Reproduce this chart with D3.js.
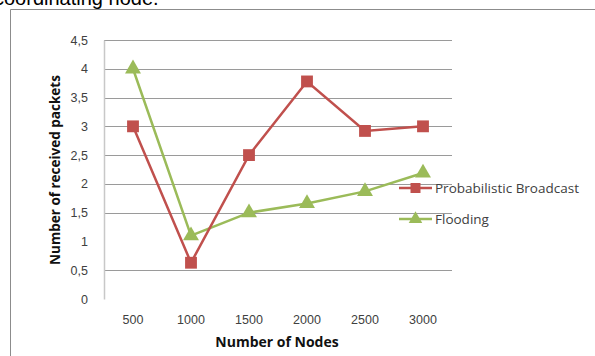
<!DOCTYPE html>
<html>
<head>
<meta charset="utf-8">
<script src="https://cdn.jsdelivr.net/npm/d3@7"></script>
<style>
  body { margin: 0; background: #fff; }
  svg { display: block; }
</style>
</head>
<body>
<script>
// data
const nodes = ["500", "1000", "1500", "2000", "2500", "3000"];
const probabilistic = [3.0, 0.63, 2.5, 3.78, 2.92, 3.0];
const flooding = [4.0, 1.1, 1.5, 1.66, 1.87, 2.19];
const yTicks = [0, 0.5, 1, 1.5, 2, 2.5, 3, 3.5, 4, 4.5];
// the 1 and 0 lines do not show in the scan
const gridLines = [0.5, 1.5, 2, 2.5, 3, 3.5, 4, 4.5];

const width = 595, height = 356;
const plotLeft = 104, plotRight = 452, plotTop = 40, plotBottom = 299;

const svg = d3.select("body").append("svg")
    .attr("width", width)
    .attr("height", height)
    .attr("font-family", "'Open Sans', sans-serif");

// caption text cut at the top of the scan
svg.append("text")
    .attr("x", -6)
    .attr("y", 5)
    .attr("font-family", "'Liberation Sans', Arial, sans-serif")
    .attr("font-size", 20)
    .attr("fill", "#000")
    .text("coordinating node.");

// outer frame (top and left only visible)
svg.append("path")
    .attr("d", "M10.5,356 V9.5 H595")
    .attr("fill", "none")
    .attr("stroke", "#8c8c8c")
    .attr("stroke-width", 1);

const x = d3.scaleBand()
    .domain(nodes)
    .range([plotLeft, plotRight]);

const y = d3.scaleLinear()
    .domain([0, 4.5])
    .range([plotBottom, plotTop]);

// gridlines
svg.append("g")
    .selectAll("line")
    .data(gridLines)
    .join("line")
    .attr("x1", plotLeft)
    .attr("x2", plotRight)
    .attr("y1", d => Math.round(y(d)) + 0.5)
    .attr("y2", d => Math.round(y(d)) + 0.5)
    .attr("stroke", "#9a9a9a")
    .attr("stroke-width", 1.2);

// y axis
const yAxis = svg.append("g")
    .attr("transform", `translate(${plotLeft},0)`)
    .call(d3.axisLeft(y).tickValues(yTicks).tickSize(0).tickPadding(16)
        .tickFormat(d => String(d).replace(".", ",")));
yAxis.select(".domain").attr("stroke", "#c8c8c8").attr("stroke-width", 1.5);
yAxis.selectAll("text")
    .attr("font-size", 12.5)
    .attr("fill", "#404040");

// x axis labels (no axis line)
const xAxis = svg.append("g")
    .attr("transform", `translate(0,${plotBottom})`)
    .call(d3.axisBottom(x).tickSize(0).tickPadding(16));
xAxis.select(".domain").remove();
xAxis.selectAll("text")
    .attr("font-size", 12.5)
    .attr("fill", "#404040");

// axis titles
svg.append("text")
    .attr("transform", "translate(60,170) rotate(-90)")
    .attr("text-anchor", "middle")
    .attr("font-size", 13.5)
    .attr("font-weight", "bold")
    .attr("fill", "#111")
    .text("Number of received packets");

svg.append("text")
    .attr("x", 277)
    .attr("y", 347)
    .attr("text-anchor", "middle")
    .attr("font-size", 14)
    .attr("font-weight", "bold")
    .attr("fill", "#111")
    .text("Number of Nodes");

const line = d3.line()
    .x((d, i) => x(nodes[i]) + x.bandwidth() / 2)
    .y(d => y(d));

const series = [
    { name: "Probabilistic Broadcast", values: probabilistic, color: "#c0504d", shape: d3.symbolSquare },
    { name: "Flooding", values: flooding, color: "#9bbb59", shape: d3.symbolTriangle }
];

series.slice().reverse().forEach(s => {
    svg.append("path")
        .datum(s.values)
        .attr("d", line)
        .attr("fill", "none")
        .attr("stroke", s.color)
        .attr("stroke-width", 2.5);

    svg.append("g")
        .selectAll("path")
        .data(s.values)
        .join("path")
        .attr("transform", (d, i) => `translate(${x(nodes[i]) + x.bandwidth() / 2},${y(d)})`)
        .attr("d", d3.symbol().type(s.shape).size(s.shape === d3.symbolSquare ? 140 : 110))
        .attr("fill", s.color);
});

// legend
const legend = svg.append("g")
    .selectAll("g")
    .data(series)
    .join("g")
    .attr("transform", (d, i) => `translate(399,${188 + i * 31})`);

legend.append("line")
    .attr("x1", 0)
    .attr("x2", 33)
    .attr("stroke", d => d.color)
    .attr("stroke-width", 2.5);

legend.append("path")
    .attr("transform", "translate(16.5,0)")
    .attr("d", d => d3.symbol().type(d.shape).size(d.shape === d3.symbolSquare ? 100 : 80)())
    .attr("fill", d => d.color);

legend.append("text")
    .attr("x", 36)
    .attr("y", 5)
    .attr("font-size", 13.5)
    .attr("fill", "#404040")
    .text(d => d.name);
</script>
</body>
</html>
